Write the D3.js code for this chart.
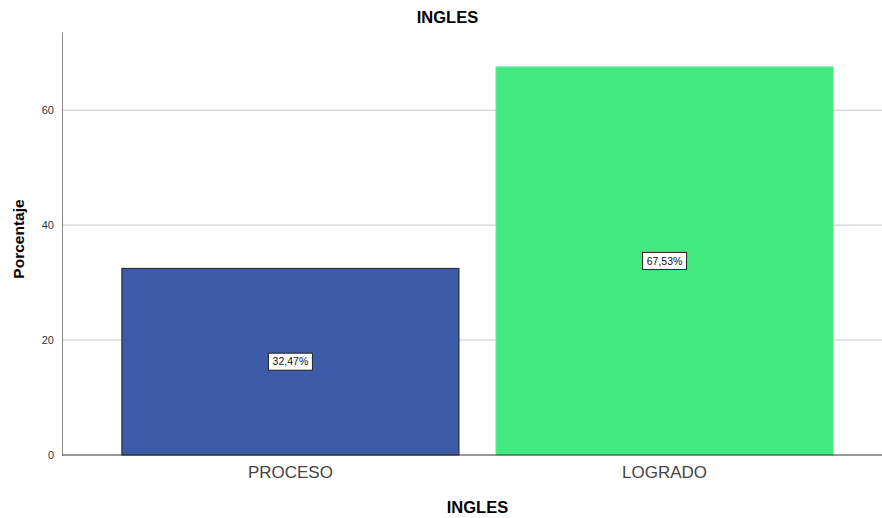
<!DOCTYPE html>
<html lang="es">
<head>
    <meta charset="UTF-8">
    <title>INGLES</title>
    <script src="https://d3js.org/d3.v7.min.js"></script>
    <style>
        body { margin: 0; background: #fff; }
        text { font-family: "Liberation Sans", Arial, sans-serif; }
    </style>
</head>
<body>
    <svg></svg>
    <script>
        const categories = ["PROCESO", "LOGRADO"];
        const percents = [32.47, 67.53];
        const percentLabels = ["32,47%", "67,53%"];
        const barColors = ["#3e5ba9", "#42e97e"];
        const yTicks = [0, 20, 40, 60];

        const svgWidth = 882;
        const svgHeight = 518;
        const plotLeft = 62, plotBottom = 455, plotTop = 32;

        const svg = d3.select('svg')
            .attr("width", svgWidth)
            .attr("height", svgHeight);

        const y = d3.scaleLinear()
            .domain([0, 73.6])
            .range([plotBottom, plotTop]);

        const x = d3.scaleBand()
            .domain(categories)
            .range([plotLeft, 893])
            .paddingInner(0.099)
            .paddingOuter(0.16);

        // gridlines
        svg.selectAll(".grid")
            .data(yTicks.filter(d => d > 0))
            .enter()
            .append("line")
            .attr("x1", plotLeft)
            .attr("x2", svgWidth)
            .attr("y1", d => y(d))
            .attr("y2", d => y(d))
            .attr("stroke", "#c8c8c8")
            .attr("stroke-width", 1);

        // bars
        svg.selectAll(".bar")
            .data(categories)
            .enter()
            .append("rect")
            .attr("x", d => x(d))
            .attr("y", (d, i) => y(percents[i]))
            .attr("width", x.bandwidth())
            .attr("height", (d, i) => plotBottom - y(percents[i]))
            .attr("fill", (d, i) => barColors[i])
            .attr("stroke", (d, i) => i === 0 ? "#222" : "#5cec92")
            .attr("stroke-width", 1);

        // y axis
        const yAxis = svg.append("g")
            .attr("transform", `translate(${plotLeft},0)`)
            .call(d3.axisLeft(y).tickValues(yTicks).tickSize(0).tickPadding(8));
        yAxis.select(".domain").attr("stroke", "#888");
        yAxis.selectAll("text").attr("font-size", 11).attr("fill", "#333");

        // baseline
        svg.append("line")
            .attr("x1", plotLeft).attr("x2", svgWidth)
            .attr("y1", plotBottom).attr("y2", plotBottom)
            .attr("stroke", "#333");

        // x labels
        svg.selectAll(".xlab")
            .data(categories)
            .enter()
            .append("text")
            .attr("x", d => x(d) + x.bandwidth() / 2)
            .attr("y", 478)
            .attr("text-anchor", "middle")
            .attr("font-size", 17)
            .attr("fill", "#444")
            .text(d => d);

        // value labels
        const lab = svg.selectAll(".vlab")
            .data(categories)
            .enter()
            .append("g")
            .attr("transform", (d, i) => `translate(${x(d) + x.bandwidth() / 2},${y(percents[i] / 2)})`);
        lab.append("rect")
            .attr("x", -22).attr("y", -8.5)
            .attr("width", 44).attr("height", 17)
            .attr("fill", "#fff")
            .attr("stroke", "#222");
        lab.append("text")
            .attr("text-anchor", "middle")
            .attr("dy", "0.35em")
            .attr("font-size", 10.5)
            .attr("fill", "#111")
            .text((d, i) => percentLabels[i]);

        // titles
        svg.append("text")
            .attr("x", 447.5).attr("y", 23)
            .attr("text-anchor", "middle")
            .attr("font-size", 16.5).attr("font-weight", "bold")
            .text("INGLES");
        svg.append("text")
            .attr("x", 477.5).attr("y", 513)
            .attr("text-anchor", "middle")
            .attr("font-size", 16.5).attr("font-weight", "bold")
            .text("INGLES");
        svg.append("text")
            .attr("transform", "translate(24,239) rotate(-90)")
            .attr("text-anchor", "middle")
            .attr("font-size", 15.5).attr("font-weight", "bold")
            .text("Porcentaje");
    </script>
</body>
</html>
